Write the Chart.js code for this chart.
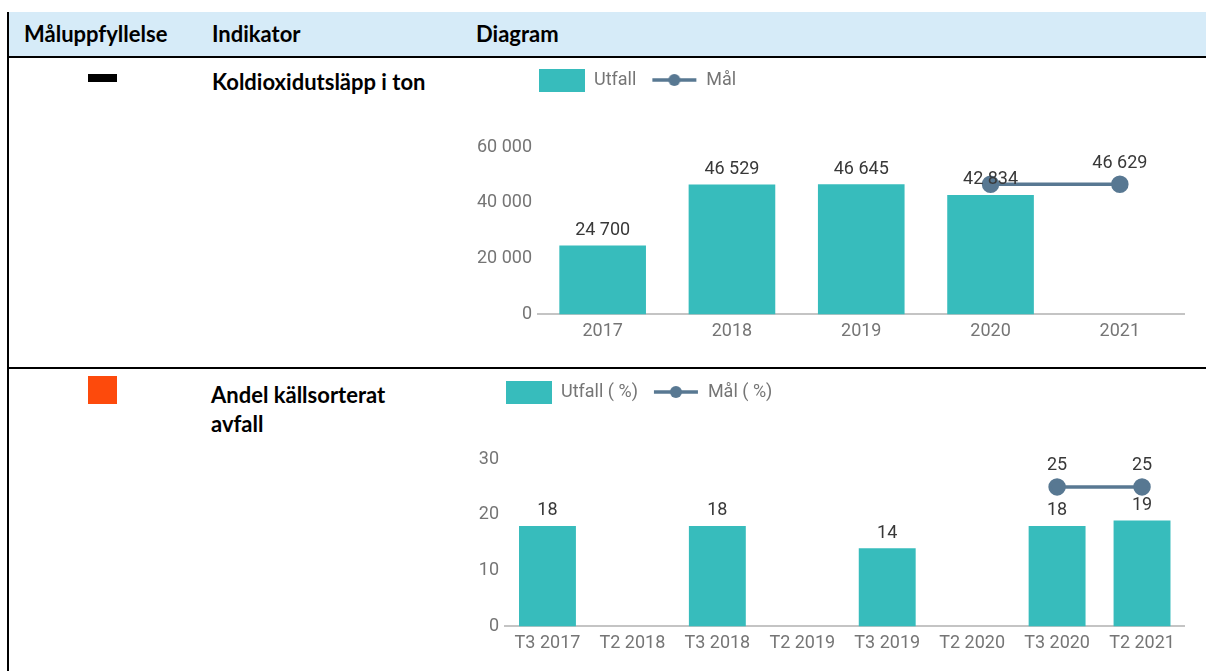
<!DOCTYPE html>
<html lang="sv">
<head>
<meta charset="utf-8">
<script src="https://cdn.jsdelivr.net/npm/chart.js@4.4.1/dist/chart.umd.min.js"></script>
<style>
  body { margin:0; width:1206px; height:671px; overflow:hidden; background:#fff; font-family: Lato, "Open Sans", sans-serif; }
  .abs { position:absolute; }
  #head { left:7px; top:12px; width:1199px; height:45px; background:#d6ebf8; }
  .vline { left:7px; top:12px; width:2px; height:659px; background:#000; }
  .hline { left:7px; width:1199px; height:2px; background:#000; }
  .txt { font-weight:700; font-size:22px; color:#000; line-height:28px; white-space:nowrap; }
  .box { left:470px; width:725px; height:298px; }
</style>
</head>
<body>
<div id="head" class="abs"></div>
<div class="abs vline"></div>
<div class="abs hline" style="top:56px"></div>
<div class="abs hline" style="top:367px"></div>

<div class="abs txt" style="left:24px;top:20px">Måluppfyllelse</div>
<div class="abs txt" style="left:212px;top:20px">Indikator</div>
<div class="abs txt" style="left:476px;top:20px">Diagram</div>

<div class="abs" style="left:88px;top:74px;width:29px;height:8px;background:#000;filter:blur(0.4px)"></div>
<div class="abs txt" style="left:212px;top:68px">Koldioxidutsläpp i ton</div>

<div class="abs" style="left:88px;top:376px;width:29px;height:28px;background:#fd4a0c;filter:blur(0.4px)"></div>
<div class="abs txt" style="left:211px;top:380px;line-height:29px">Andel källsorterat<br>avfall</div>

<div class="abs box" style="top:56px"><canvas id="co2"></canvas></div>
<div class="abs box" style="top:368px"><canvas id="avfall"></canvas></div>

<script>
// data
const years = ['2017', '2018', '2019', '2020', '2021'];
const co2Utfall = [24700, 46529, 46645, 42834, null];
const co2Mal = [null, null, null, 46629, 46629];
const co2Ticks = [0, 20000, 40000, 60000];

const terminer = ['T3 2017', 'T2 2018', 'T3 2018', 'T2 2019', 'T3 2019', 'T2 2020', 'T3 2020', 'T2 2021'];
const avfallUtfall = [18, null, 18, null, 14, null, 18, 19];
const avfallMal = [null, null, null, null, null, null, 25, 25];
const avfallTicks = [0, 10, 20, 30];

const TEAL = '#37bcbc';
const SLATE = '#587892';
const GREY = '#757575';

function fmt(v) {
  return String(v).replace(/\B(?=(\d{3})+(?!\d))/g, ' ');
}

function icon(w, h, draw) {
  const c = document.createElement('canvas');
  c.width = w; c.height = h;
  draw(c.getContext('2d'));
  return c;
}
const barIcon = icon(46, 23, g => { g.fillStyle = TEAL; g.fillRect(0, 0, 46, 23); });
const lineIcon = icon(46, 16, g => {
  g.strokeStyle = SLATE; g.lineWidth = 3.5;
  g.beginPath(); g.moveTo(1, 8); g.lineTo(45, 8); g.stroke();
  g.fillStyle = SLATE;
  g.beginPath(); g.arc(23, 8, 6, 0, Math.PI * 2); g.fill();
});

// value labels above bars and points, skipping ones that would collide
const valueLabels = {
  id: 'valueLabels',
  afterDatasetsDraw(chart) {
    const ctx = chart.ctx;
    const drawn = [];
    ctx.save();
    ctx.font = '18px Roboto';
    ctx.fillStyle = '#383838';
    ctx.textAlign = 'center';
    ctx.textBaseline = 'middle';
    chart.data.datasets.forEach((ds, i) => {
      const meta = chart.getDatasetMeta(i);
      const lift = ds.type === 'line' ? 21 : 15;
      meta.data.forEach((el, j) => {
        const v = ds.data[j];
        if (v == null) return;
        const txt = fmt(v);
        const w = ctx.measureText(txt).width;
        const y = el.y - lift;
        const b = { l: el.x - w / 2, r: el.x + w / 2, t: y - 10, btm: y + 10 };
        if (drawn.some(d => b.l < d.r && b.r > d.l && b.t < d.btm && b.btm > d.t)) return;
        drawn.push(b);
        ctx.fillText(txt, el.x, y);
      });
    });
    ctx.restore();
  }
};

// legend starts at the plot's left edge, with some room below it
const legendPlace = {
  id: 'legendPlace',
  afterInit(chart, args, opts) {
    const lg = chart.legend;
    const fit = lg.fit;
    lg.fit = function () { fit.call(this); this.height += opts.gap; };
  },
  beforeDraw(chart) {
    const lg = chart.legend;
    lg.left = chart.chartArea.left + 1 - lg.options.labels.padding;
  }
};

function makeChart(id, labels, utfall, mal, ticks, names, yWidth) {
  const ctx = document.getElementById(id).getContext('2d');
  return new Chart(ctx, {
    data: {
      labels: labels,
      datasets: [{
        type: 'bar',
        label: names[0],
        data: utfall,
        backgroundColor: TEAL,
        barPercentage: 0.67,
        categoryPercentage: 1,
        order: 1
      }, {
        type: 'line',
        label: names[1],
        data: mal,
        borderColor: SLATE,
        backgroundColor: SLATE,
        borderWidth: 3.5,
        pointRadius: 7,
        pointHoverRadius: 7,
        pointBackgroundColor: SLATE,
        order: 0
      }]
    },
    options: {
      responsive: true,
      maintainAspectRatio: false,
      animation: false,
      devicePixelRatio: 1,
      layout: { padding: { left: 0, right: 10, top: 0, bottom: 6 } },
      plugins: {
        tooltip: { enabled: false },
        legendPlace: { gap: 48 },
        legend: {
          align: 'start',
          labels: {
            usePointStyle: true,
            pointStyleWidth: 46,
            boxHeight: 18,
            padding: 15,
            color: GREY,
            font: { family: 'Roboto', size: 18 },
            generateLabels(chart) {
              const items = Chart.defaults.plugins.legend.labels.generateLabels(chart);
              items.sort((a, b) => a.datasetIndex - b.datasetIndex);
              items.forEach(it => { it.pointStyle = it.datasetIndex === 0 ? barIcon : lineIcon; });
              return items;
            }
          }
        }
      },
      scales: {
        x: {
          grid: { display: false, drawTicks: false },
          border: { display: true, color: '#c4c4c4', width: 2 },
          ticks: { color: GREY, font: { family: 'Roboto', size: 18 }, padding: 6, maxRotation: 0, autoSkip: false }
        },
        y: {
          min: ticks[0],
          max: ticks[ticks.length - 1],
          grid: { display: false, drawTicks: false },
          border: { display: false },
          ticks: {
            stepSize: ticks[1] - ticks[0],
            color: GREY,
            font: { family: 'Roboto', size: 18 },
            padding: 6,
            callback: v => fmt(v)
          },
          afterFit(scale) { scale.width = yWidth; }
        }
      }
    },
    plugins: [valueLabels, legendPlace]
  });
}

makeChart('co2', years, co2Utfall, co2Mal, co2Ticks, ['Utfall', 'Mål'], 68);
makeChart('avfall', terminer, avfallUtfall, avfallMal, avfallTicks, ['Utfall ( %)', 'Mål ( %)'], 35);
</script>
</body>
</html>
